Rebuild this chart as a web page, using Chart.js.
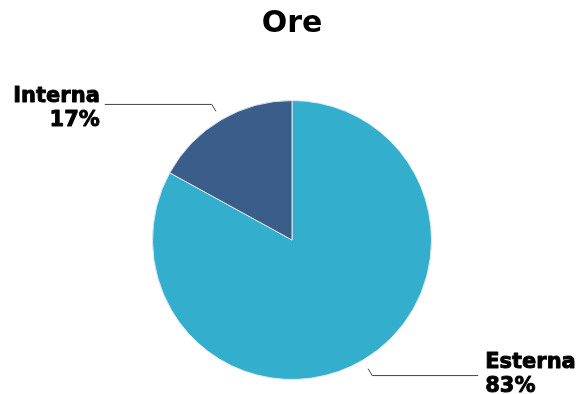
<!DOCTYPE html>
<html>
<head>
<meta charset="utf-8">
<script src="https://cdn.jsdelivr.net/npm/chart.js@4"></script>
<style>
  html, body { margin: 0; padding: 0; background: #fff; }
  #wrap { width: 580px; height: 394px; }
</style>
</head>
<body>
<div id="wrap"><canvas id="c" width="580" height="394"></canvas></div>
<script>
const categories = ['Esterna', 'Interna'];
const shares = [83, 17];
const sliceColors = ['#34aecd', '#3a5e89'];
const chartTitle = 'Ore';

const FONT = "'DejaVu Sans', 'Noto Sans', sans-serif";

// Leader lines with two-line labels (name + percentage) outside each slice
const leaderLabels = {
  id: 'leaderLabels',
  afterDatasetsDraw(chart) {
    const ctx = chart.ctx;
    const meta = chart.getDatasetMeta(0);
    meta.data.forEach((arc, i) => {
      const { x, y, startAngle, endAngle, outerRadius } = arc.getProps(['x', 'y', 'startAngle', 'endAngle', 'outerRadius'], true);
      const mid = (startAngle + endAngle) / 2;
      const cos = Math.cos(mid), sin = Math.sin(mid);
      const p1 = { x: x + cos * (outerRadius + 10), y: y + sin * (outerRadius + 10) };
      const p2 = { x: x + cos * (outerRadius + 18), y: y + sin * (outerRadius + 18) };
      const right = cos >= 0;
      const p3 = { x: right ? p2.x + 106 : p2.x - 107, y: p2.y };

      ctx.save();
      ctx.strokeStyle = '#444';
      ctx.lineWidth = 1;
      ctx.beginPath();
      ctx.moveTo(p1.x, p1.y);
      ctx.lineTo(p2.x, p2.y);
      ctx.lineTo(p3.x, p3.y);
      ctx.stroke();

      ctx.fillStyle = '#000';
      ctx.strokeStyle = '#000';
      ctx.lineWidth = 0.9;
      ctx.lineJoin = 'round';
      ctx.font = `bold 21px ${FONT}`;
      ctx.textBaseline = 'alphabetic';
      ctx.textAlign = right ? 'left' : 'right';
      const tx = right ? p3.x + 7 : p3.x - 5;
      const base = right ? p3.y - 8 : p3.y - 2;
      const lines = [categories[i], shares[i] + '%'];
      lines.forEach((t, k) => {
        ctx.fillText(t, tx, base + k * 24);
        ctx.strokeText(t, tx, base + k * 24);
      });
      ctx.restore();
    });
  }
};

new Chart(document.getElementById('c'), {
  type: 'pie',
  data: {
    labels: categories,
    datasets: [{
      data: shares,
      backgroundColor: sliceColors,
      borderColor: '#dde6ee',
      borderWidth: 1
    }]
  },
  options: {
    responsive: false,
    animation: false,
    layout: { padding: { left: 4, right: 0, top: 0, bottom: 14 } },
    plugins: {
      legend: { display: false },
      tooltip: { enabled: false },
      title: {
        display: true,
        text: chartTitle,
        color: '#000',
        font: { family: FONT, size: 30, weight: 'bold', lineHeight: 1.2 },
        padding: { top: 6, bottom: 58 }
      }
    }
  },
  plugins: [leaderLabels]
});
</script>
</body>
</html>
